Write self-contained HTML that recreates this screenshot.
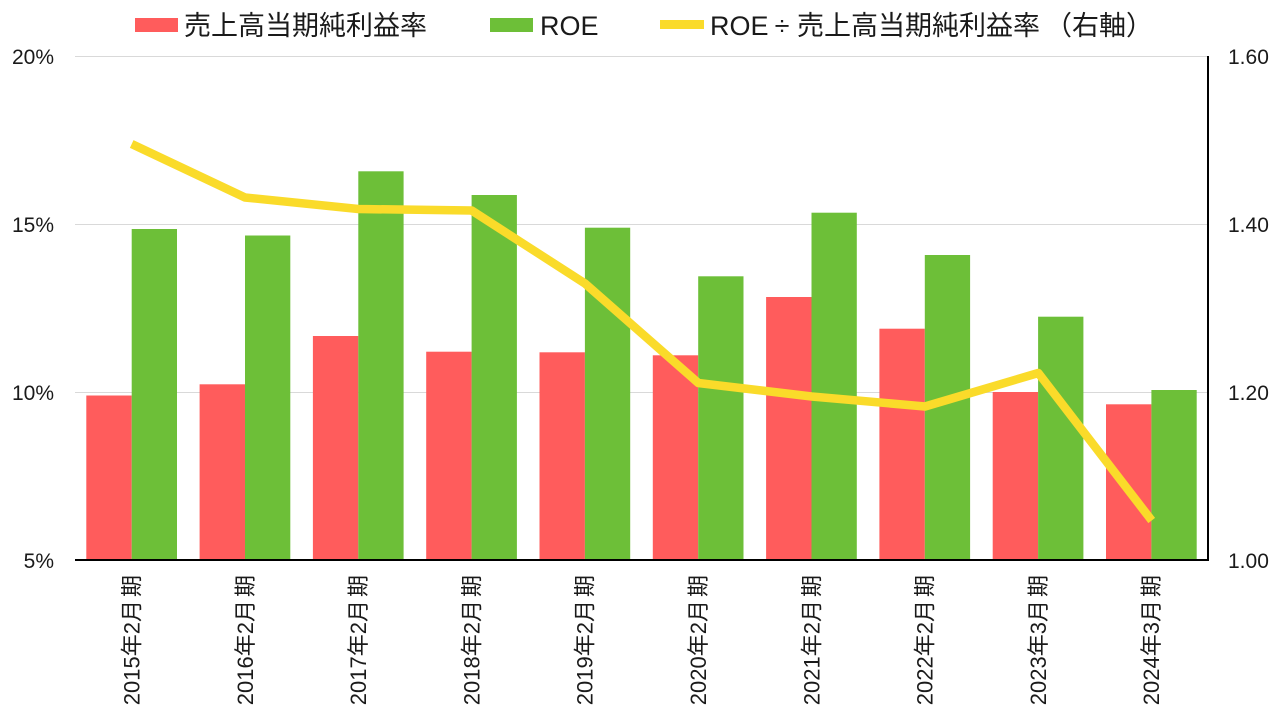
<!DOCTYPE html>
<html><head><meta charset="utf-8"><style>
html,body{margin:0;padding:0;background:#fff;}
svg{display:block;}
text{font-family:"Liberation Sans","Noto Sans CJK JP",sans-serif;fill:#1a1a1a;}
</style></head><body>
<svg width="1280" height="717" viewBox="0 0 1280 717" xmlns="http://www.w3.org/2000/svg">
<!-- gridlines -->
<g stroke="#d9d9d9" stroke-width="1">
<line x1="75" y1="56.5" x2="1208" y2="56.5"/>
<line x1="75" y1="224.5" x2="1208" y2="224.5"/>
<line x1="75" y1="392.5" x2="1208" y2="392.5"/>
</g>
<!-- bars -->
<g fill="#ff5c5c">
<rect x="86.3" y="395.5" width="45.4" height="164.5"/>
<rect x="199.6" y="384.3" width="45.4" height="175.7"/>
<rect x="312.9" y="336" width="45.4" height="224"/>
<rect x="426.2" y="351.7" width="45.4" height="208.3"/>
<rect x="539.5" y="352.3" width="45.4" height="207.7"/>
<rect x="652.8" y="355.3" width="45.4" height="204.7"/>
<rect x="766.1" y="297" width="45.4" height="263"/>
<rect x="879.4" y="328.7" width="45.4" height="231.3"/>
<rect x="992.7" y="392" width="45.4" height="168"/>
<rect x="1106" y="404.3" width="45.4" height="155.7"/>
</g>
<g fill="#6dbf38">
<rect x="131.7" y="229" width="45.3" height="331"/>
<rect x="245" y="235.5" width="45.3" height="324.5"/>
<rect x="358.3" y="171.3" width="45.3" height="388.7"/>
<rect x="471.6" y="195" width="45.3" height="365"/>
<rect x="584.9" y="227.7" width="45.3" height="332.3"/>
<rect x="698.2" y="276.3" width="45.3" height="283.7"/>
<rect x="811.5" y="212.7" width="45.3" height="347.3"/>
<rect x="924.8" y="255" width="45.3" height="305"/>
<rect x="1038.1" y="316.7" width="45.3" height="243.3"/>
<rect x="1151.4" y="390" width="45.3" height="170"/>
</g>
<!-- axes -->
<line x1="75" y1="560" x2="1209" y2="560" stroke="#000" stroke-width="2"/>
<line x1="1208" y1="56" x2="1208" y2="561" stroke="#000" stroke-width="2"/>
<!-- line series -->
<polyline fill="none" stroke="#fadb2a" stroke-width="8.5" stroke-linejoin="round" stroke-linecap="butt"
points="131.7,144 245,197.5 358.3,209 471.7,210.5 585,283.5 698.3,383 811.7,396.5 925,406.5 1038.3,373 1151.7,520.5"/>
<!-- left axis labels -->
<g font-size="21" text-anchor="end">
<text x="54" y="64">20%</text>
<text x="54" y="232">15%</text>
<text x="54" y="400">10%</text>
<text x="54" y="568">5%</text>
</g>
<!-- right axis labels -->
<g font-size="21" text-anchor="start">
<text x="1228" y="64">1.60</text>
<text x="1228" y="232">1.40</text>
<text x="1228" y="400">1.20</text>
<text x="1228" y="568">1.00</text>
</g>
<!-- x labels -->
<g font-size="22" text-anchor="end">
<text transform="translate(139.5,575) rotate(-90)">2015年2月<tspan dx="3">期</tspan></text>
<text transform="translate(252.8,575) rotate(-90)">2016年2月<tspan dx="3">期</tspan></text>
<text transform="translate(366.1,575) rotate(-90)">2017年2月<tspan dx="3">期</tspan></text>
<text transform="translate(479.4,575) rotate(-90)">2018年2月<tspan dx="3">期</tspan></text>
<text transform="translate(592.7,575) rotate(-90)">2019年2月<tspan dx="3">期</tspan></text>
<text transform="translate(706,575) rotate(-90)">2020年2月<tspan dx="3">期</tspan></text>
<text transform="translate(819.3,575) rotate(-90)">2021年2月<tspan dx="3">期</tspan></text>
<text transform="translate(932.6,575) rotate(-90)">2022年2月<tspan dx="3">期</tspan></text>
<text transform="translate(1045.9,575) rotate(-90)">2023年3月<tspan dx="3">期</tspan></text>
<text transform="translate(1159.2,575) rotate(-90)">2024年3月<tspan dx="3">期</tspan></text>
</g>
<!-- legend -->
<rect x="135" y="18" width="43" height="14" fill="#ff5c5c"/>
<text x="184" y="35" font-size="27">売上高当期純利益率</text>
<rect x="490" y="18" width="43" height="14" fill="#6dbf38"/>
<text x="540" y="35" font-size="27">ROE</text>
<rect x="660" y="20" width="44" height="9" fill="#fadb2a"/>
<text x="710" y="35" font-size="27">ROE</text>
<text x="782" y="35" font-size="27" text-anchor="middle">÷</text>
<text x="797" y="35" font-size="27">売上高当期純利益率<tspan dx="5">（右軸）</tspan></text>
</svg>
</body></html>
